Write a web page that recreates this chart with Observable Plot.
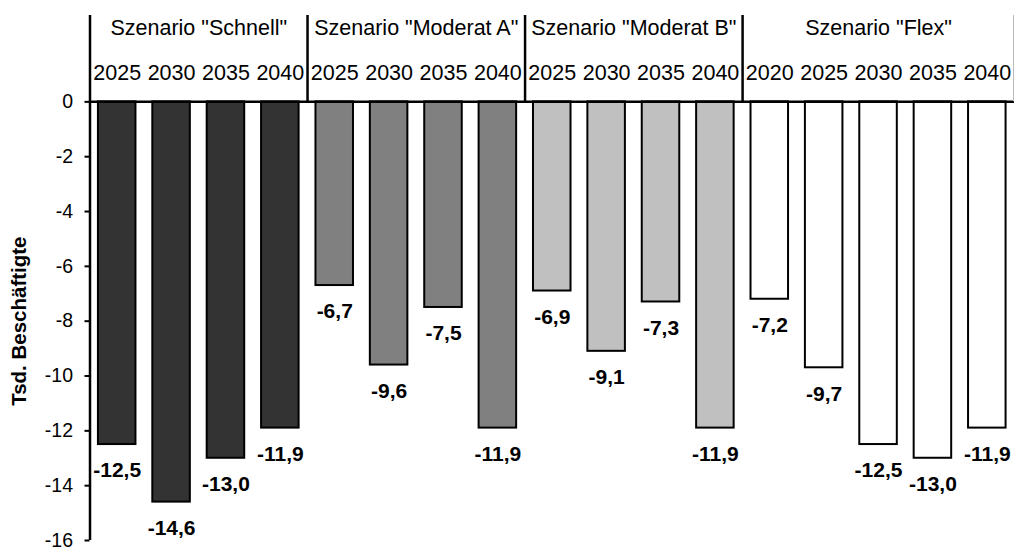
<!DOCTYPE html>
<html>
<head>
<meta charset="utf-8">
<script src="https://cdn.jsdelivr.net/npm/d3@7"></script>
<script src="https://cdn.jsdelivr.net/npm/@observablehq/plot@0.6"></script>
<style>
  html, body { margin: 0; padding: 0; background: #fff; }
  #chart svg { display: block; }
</style>
</head>
<body>
<div id="chart"></div>
<script>
// ---- data ----
const groups = ['Szenario "Schnell"', 'Szenario "Moderat A"', 'Szenario "Moderat B"', 'Szenario "Flex"'];
const schnellYears = [2025, 2030, 2035, 2040];
const schnellValues = [-12.5, -14.6, -13.0, -11.9];
const moderatAYears = [2025, 2030, 2035, 2040];
const moderatAValues = [-6.7, -9.6, -7.5, -11.9];
const moderatBYears = [2025, 2030, 2035, 2040];
const moderatBValues = [-6.9, -9.1, -7.3, -11.9];
const flexYears = [2020, 2025, 2030, 2035, 2040];
const flexValues = [-7.2, -9.7, -12.5, -13.0, -11.9];
const groupColors = ["#333333", "#808080", "#c0c0c0", "#ffffff"];
const yTicks = [0, -2, -4, -6, -8, -10, -12, -14, -16];
const yTitle = "Tsd. Beschäftigte";

// ---- build table ----
const yearSets = [schnellYears, moderatAYears, moderatBYears, flexYears];
const valueSets = [schnellValues, moderatAValues, moderatBValues, flexValues];
const data = [];
let idx = 0;
const groupInfo = [];
yearSets.forEach((ys, g) => {
  const start = idx;
  ys.forEach((year, k) => {
    data.push({i: idx, group: groups[g], g, year, value: valueSets[g][k]});
    idx++;
  });
  groupInfo.push({name: groups[g], center: (start + idx - 1) / 2, end: idx - 0.5});
});
const n = data.length;
const headerTop = 3.15; // y extent of header area above zero (in axis units)
const half = 0.345;
const fmt = v => d3.format(".1f")(v).replace(".", ",").replace("−", "-");
const FONT = "Liberation Sans, Arial, Helvetica, sans-serif";

const plot = Plot.plot({
  width: 1014,
  height: 550,
  marginLeft: 89.5,
  marginRight: 0,
  marginTop: 15,
  marginBottom: 10,
  style: {fontFamily: FONT, color: "#000", background: "#fff", overflow: "visible"},
  x: {domain: [-0.5, n - 0.5], axis: null},
  y: {domain: [d3.min(yTicks), headerTop], axis: null},
  marks: [
    // bars
    Plot.rectY(data, {
      x1: d => d.i - half, x2: d => d.i + half,
      y1: 0, y2: "value",
      fill: d => groupColors[d.g],
      stroke: "#000", strokeWidth: 2
    }),
    // y axis ticks & labels
    Plot.axisY(yTicks, {
      anchor: "left", tickSize: 5, tickPadding: 12, strokeWidth: 2,
      fontSize: 19.5, tickFormat: d => String(d), label: null
    }),
    // y axis title
    Plot.text([yTitle], {
      frameAnchor: "left", y: d3.mean(d3.extent(yTicks)), rotate: -90,
      dx: -71, fontSize: 20.5, fontWeight: "bold", text: d => d,
      textAnchor: "middle"
    }),
    // left axis line
    Plot.ruleX([-0.5], {y1: d3.min(yTicks), y2: headerTop, stroke: "#000", strokeWidth: 2.5}),
    // zero line
    Plot.ruleY([0], {x1: -0.5, x2: n - 0.5, stroke: "#000", strokeWidth: 2.5}),
    // group separators
    Plot.ruleX(groupInfo.slice(0, -1), {x: "end", y1: 0, y2: headerTop, stroke: "#000", strokeWidth: 2.5}),
    Plot.ruleX(groupInfo.slice(-1), {x: "end", y1: 0, y2: headerTop, stroke: "#bbb", strokeWidth: 1, dx: -1}),
    // group labels
    Plot.text(groupInfo, {
      x: "center", frameAnchor: "top", dy: 13, text: "name",
      fontSize: 21.5, lineAnchor: "middle"
    }),
    // year labels
    Plot.text(data, {
      x: "i", frameAnchor: "top", dy: 58, text: d => String(d.year),
      fontSize: 21.5, lineAnchor: "middle"
    }),
    // value labels
    Plot.text(data, {
      x: "i", y: "value", dy: 26, text: d => fmt(d.value),
      fontSize: 21, fontWeight: "bold", lineAnchor: "middle"
    })
  ]
});
document.getElementById("chart").appendChild(plot);
</script>
</body>
</html>
